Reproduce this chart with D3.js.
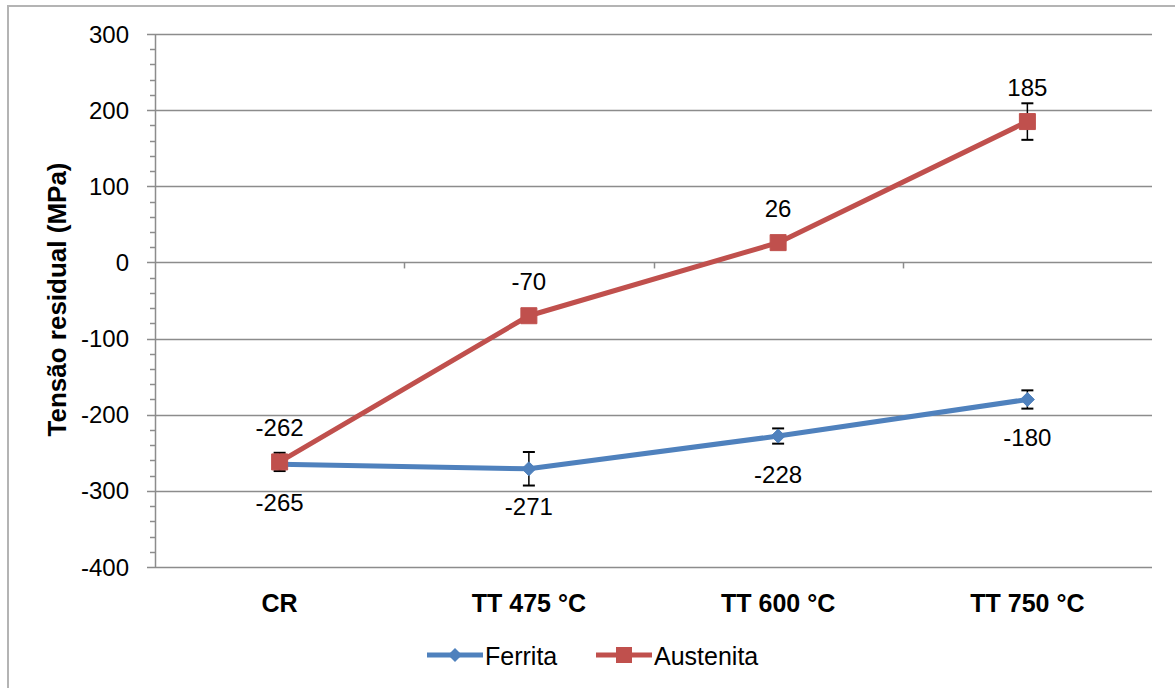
<!DOCTYPE html>
<html>
<head>
<meta charset="utf-8">
<script src="https://cdn.jsdelivr.net/npm/d3@7"></script>
<style>
  html, body { margin: 0; padding: 0; background: #fff; }
  svg { display: block; font-family: "Liberation Sans", Arial, sans-serif; }
</style>
</head>
<body>
<svg id="chart" width="1175" height="688"></svg>
<script>
// Residual stress by heat treatment condition
const categories = ["CR", "TT 475 °C", "TT 600 °C", "TT 750 °C"];
const ferrita = [-265, -271, -228, -180];
const ferritaErr = [4, 22, 10, 12];
const austenita = [-262, -70, 26, 185];
const austenitaErr = [12, 5, 5, 24];
const yTicks = [300, 200, 100, 0, -100, -200, -300, -400];
const seriesNames = ["Ferrita", "Austenita"];

const blue = "#4F81BD";
const red = "#C0504D";
const gridColor = "#8c8c8c";

const svg = d3.select("#chart");

// outer frame
svg.append("rect")
  .attr("x", 8).attr("y", 6)
  .attr("width", 1180).attr("height", 700)
  .attr("fill", "none").attr("stroke", "#b4b4b4").attr("stroke-width", 2);

const x = d3.scaleBand().domain(categories).range([155, 1152]);
const y = d3.scaleLinear().domain([-400, 300]).range([567, 34]);
const cx = d => x(d) + x.bandwidth() / 2;

// horizontal gridlines
svg.append("g").selectAll("line").data(yTicks).join("line")
  .attr("x1", 147).attr("x2", 1152)
  .attr("y1", d => Math.round(y(d)) + 0.5).attr("y2", d => Math.round(y(d)) + 0.5)
  .attr("stroke", gridColor).attr("stroke-width", 1.5);

// minor ticks on the value axis
const minor = d3.range(-400, 300, 20).filter(v => v % 100 !== 0);
svg.append("g").selectAll("line").data(minor).join("line")
  .attr("x1", 150).attr("x2", 155)
  .attr("y1", d => Math.round(y(d)) + 0.5).attr("y2", d => Math.round(y(d)) + 0.5)
  .attr("stroke", gridColor).attr("stroke-width", 1.5);

// value axis line
svg.append("line")
  .attr("x1", 155.5).attr("x2", 155.5).attr("y1", y(300)).attr("y2", y(-400))
  .attr("stroke", gridColor).attr("stroke-width", 1.5);

// category tick marks on the zero line
const bounds = categories.slice(1).map(c => x(c));
svg.append("g").selectAll("line").data(bounds).join("line")
  .attr("x1", d => Math.round(d) + 0.5).attr("x2", d => Math.round(d) + 0.5)
  .attr("y1", y(0)).attr("y2", y(0) + 6)
  .attr("stroke", gridColor).attr("stroke-width", 1.5);

// value tick labels
svg.append("g").selectAll("text").data(yTicks).join("text")
  .attr("x", 129).attr("y", d => y(d))
  .attr("text-anchor", "end").attr("dominant-baseline", "central")
  .attr("font-size", 24).attr("fill", "#000")
  .text(d => d);

// category labels
svg.append("g").selectAll("text").data(categories).join("text")
  .attr("x", d => cx(d)).attr("y", 603)
  .attr("text-anchor", "middle").attr("dominant-baseline", "central")
  .attr("font-size", 25).attr("font-weight", "bold").attr("fill", "#000")
  .text(d => d);

// axis title
svg.append("text")
  .attr("transform", `translate(57,${(y(300) + y(-400)) / 2 - 1}) rotate(-90)`)
  .attr("text-anchor", "middle").attr("dominant-baseline", "central")
  .attr("font-size", 26).attr("font-weight", "bold").attr("fill", "#000")
  .text("Tensão residual (MPa)");

function drawSeries(values, errs, color, marker, labelDy) {
  const pts = categories.map((c, i) => ({ c, v: values[i], e: errs[i] }));
  const g = svg.append("g");
  g.append("path")
    .datum(pts)
    .attr("d", d3.line().x(d => cx(d.c)).y(d => y(d.v)))
    .attr("fill", "none").attr("stroke", color).attr("stroke-width", 5)
    .attr("stroke-linejoin", "round");
  // error bars
  const eb = g.append("g").selectAll("g").data(pts).join("g");
  eb.append("line")
    .attr("x1", d => cx(d.c)).attr("x2", d => cx(d.c))
    .attr("y1", d => y(d.v + d.e)).attr("y2", d => y(d.v - d.e))
    .attr("stroke", "#000").attr("stroke-width", 1.5);
  [1, -1].forEach(s => {
    eb.append("line")
      .attr("x1", d => cx(d.c) - 6).attr("x2", d => cx(d.c) + 6)
      .attr("y1", d => y(d.v + s * d.e)).attr("y2", d => y(d.v + s * d.e))
      .attr("stroke", "#000").attr("stroke-width", 2);
  });
  // markers
  g.append("g").selectAll("path").data(pts).join("path")
    .attr("transform", d => `translate(${cx(d.c)},${y(d.v)})`)
    .attr("d", marker)
    .attr("fill", color).attr("stroke", color).attr("stroke-width", 1);
  // data labels
  g.append("g").selectAll("text").data(pts).join("text")
    .attr("x", d => cx(d.c)).attr("y", d => y(d.v) + labelDy)
    .attr("text-anchor", "middle").attr("dominant-baseline", "central")
    .attr("font-size", 24).attr("fill", "#000")
    .text(d => d.v);
}

const diamond = "M0,-7L7,0L0,7L-7,0Z";
const square = "M-8,-8H8V8H-8Z";

drawSeries(ferrita, ferritaErr, blue, diamond, 38);
drawSeries(austenita, austenitaErr, red, square, -34);

// legend
const legend = svg.append("g");
const items = [
  { name: seriesNames[0], color: blue, marker: diamond, x0: 427 },
  { name: seriesNames[1], color: red, marker: square, x0: 596 }
];
items.forEach(it => {
  legend.append("line")
    .attr("x1", it.x0).attr("x2", it.x0 + 56).attr("y1", 655).attr("y2", 655)
    .attr("stroke", it.color).attr("stroke-width", 5);
  legend.append("path")
    .attr("transform", `translate(${it.x0 + 28},655)`)
    .attr("d", it.marker).attr("fill", it.color);
  legend.append("text")
    .attr("x", it.x0 + 58).attr("y", 656)
    .attr("dominant-baseline", "central")
    .attr("font-size", 25).attr("fill", "#000")
    .text(it.name);
});
</script>
</body>
</html>
